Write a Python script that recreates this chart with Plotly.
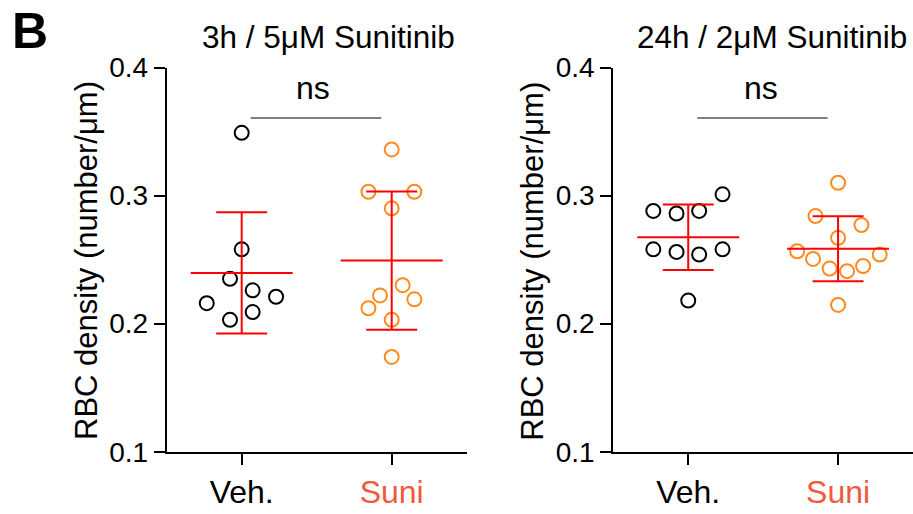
import numpy as np
import plotly.graph_objects as go

# ---------------- data ----------------
categories = ["Veh.", "Suni"]
panel_titles = ["3h / 5μM Sunitinib", "24h / 2μM Sunitinib"]
y_title = "RBC density (number/μm)"
y_ticks = [0.1, 0.2, 0.3, 0.4]
sig_labels = ["ns", "ns"]
sig_levels = [0.3605, 0.3605]

veh_3h = [0.349, 0.258, 0.235, 0.226, 0.221, 0.216, 0.209, 0.203]
suni_3h = [0.336, 0.303, 0.303, 0.290, 0.230, 0.222, 0.219, 0.212, 0.203, 0.174]
veh_24h = [0.301, 0.288, 0.286, 0.288, 0.258, 0.256, 0.254, 0.258, 0.218]
suni_24h = [0.310, 0.284, 0.277, 0.267, 0.2565, 0.254, 0.2505, 0.245, 0.243, 0.241, 0.2146]

# horizontal scatter (swarm) offsets, in category units
veh_3h_jitter = [0, 0, -0.078, 0.073, 0.229, -0.233, 0.073, -0.078]
suni_3h_jitter = [0, -0.155, 0.151, 0, 0.073, -0.078, 0.151, -0.155, 0, 0]
veh_24h_jitter = [0.229, -0.233, -0.078, 0.073, -0.233, -0.078, 0.073, 0.229, 0]
suni_24h_jitter = [0, -0.151, 0.156, 0, -0.273, 0.278, -0.167, 0.167, -0.056, 0.06, 0]

# ---------------- style ----------------
W, H = 913, 514
FONT = "Liberation Sans, Arial, sans-serif"
VEH_COLOR = "#000000"
SUNI_COLOR = "#FF8A1E"
SUNI_LABEL = "#F05A3C"
BAR_COLOR = "#FF0000"
SIG_COLOR = "#808080"

def px_x(p):
    return p / W

def px_y(p):
    return 1 - p / H

x_domains = [[px_x(166.7), px_x(466.7)], [px_x(613.3), 1.0]]
y_domain = [px_y(451.7), px_y(67.5)]

fig = go.Figure()

panels = [
    (veh_3h, veh_3h_jitter, suni_3h, suni_3h_jitter),
    (veh_24h, veh_24h_jitter, suni_24h, suni_24h_jitter),
]

for i, (veh, vj, suni, sj) in enumerate(panels):
    xa = "x" if i == 0 else "x2"
    ya = "y" if i == 0 else "y2"
    for ci, (vals, jit, col) in enumerate([(veh, vj, VEH_COLOR), (suni, sj, SUNI_COLOR)]):
        fig.add_trace(go.Scatter(
            x=[ci + j for j in jit], y=vals, mode="markers",
            marker=dict(symbol="circle-open", size=14, color=col, line=dict(width=2, color=col)),
            xaxis=xa, yaxis=ya, showlegend=False, hoverinfo="y"))
    # mean +/- SD
    for ci, vals in enumerate([veh, suni]):
        m = float(np.mean(vals))
        sd = float(np.std(vals, ddof=1))
        xs = [ci - 0.34, ci + 0.34, None, ci, ci, None,
              ci - 0.17, ci + 0.17, None, ci - 0.17, ci + 0.17]
        ys = [m, m, None, m - sd, m + sd, None,
              m + sd, m + sd, None, m - sd, m - sd]
        fig.add_trace(go.Scatter(
            x=xs, y=ys, mode="lines", line=dict(color=BAR_COLOR, width=2),
            xaxis=xa, yaxis=ya, showlegend=False, hoverinfo="skip"))
    # significance bar
    fig.add_trace(go.Scatter(
        x=[0.06, 0.93], y=[sig_levels[i], sig_levels[i]], mode="lines",
        line=dict(color=SIG_COLOR, width=2), xaxis=xa, yaxis=ya,
        showlegend=False, hoverinfo="skip", cliponaxis=False))

ticktext = [categories[0], f'<span style="color:{SUNI_LABEL}">{categories[1]}</span>']

axis_common = dict(showgrid=False, zeroline=False, showline=True, linecolor="black",
                   linewidth=2, ticks="outside", ticklen=11, tickwidth=2, tickcolor="black",
                   automargin=False)

layout = dict(
    width=W, height=H, margin=dict(l=0, r=0, t=0, b=0, pad=0, autoexpand=False),
    paper_bgcolor="white", plot_bgcolor="white",
    font=dict(family=FONT, color="black"),
    showlegend=False,
)
for i in range(2):
    sx = "" if i == 0 else "2"
    layout["xaxis" + sx] = dict(axis_common, domain=x_domains[i], range=[-0.5, 1.5],
                                tickvals=[0, 1], ticktext=ticktext,
                                tickfont=dict(size=32, family=FONT, color="black"),
                                anchor="y" + sx)
    layout["yaxis" + sx] = dict(axis_common, domain=y_domain, range=[0.1, 0.4],
                                tickvals=y_ticks, ticktext=[f"{t:.1f}" for t in y_ticks],
                                tickfont=dict(size=28, family=FONT, color="black"),
                                anchor="x" + sx)
fig.update_layout(**layout)

ann = []
ann.append(dict(text="<b>B</b>", x=px_x(10), y=px_y(1), xref="paper", yref="paper",
                xanchor="left", yanchor="top", showarrow=False,
                font=dict(size=50, family=FONT, color="black")))
title_x = [328, 771.5]
ytitle_x = [86, 531.7]
ns_x = [0.477, 0.485]
for i in range(2):
    sx = "" if i == 0 else "2"
    ann.append(dict(text=panel_titles[i], x=px_x(title_x[i]), y=px_y(37), xref="paper", yref="paper",
                    xanchor="center", yanchor="middle", showarrow=False,
                    font=dict(size=31.5, family=FONT, color="black")))
    ann.append(dict(text=y_title, x=px_x(ytitle_x[i]), y=px_y(261), xref="paper", yref="paper",
                    xanchor="center", yanchor="middle", textangle=-90, showarrow=False,
                    font=dict(size=31, family=FONT, color="black")))
    ann.append(dict(text=sig_labels[i], x=ns_x[i], y=px_y(88), xref="x" + sx, yref="paper",
                    xanchor="center", yanchor="middle", showarrow=False,
                    font=dict(size=32, family=FONT, color="black")))
fig.update_layout(annotations=ann)

fig.write_html("out.html", config={"displayModeBar": False},
               post_script="document.body.style.margin='0';")
